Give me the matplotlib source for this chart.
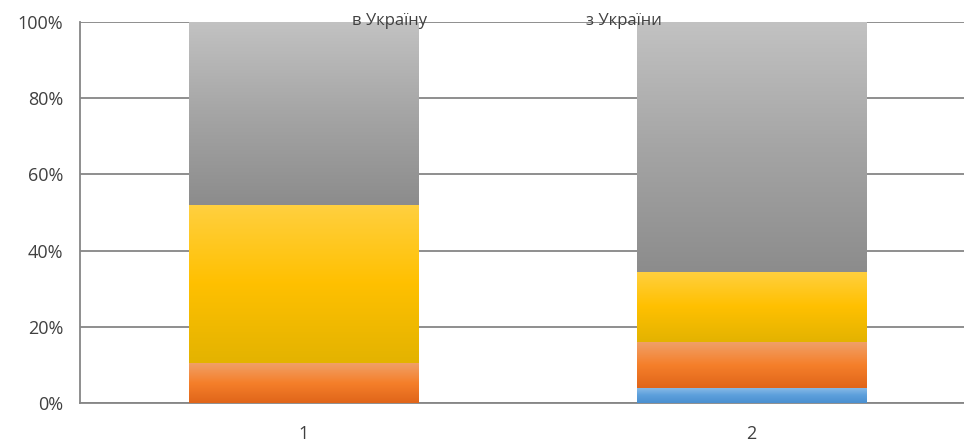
import numpy as np
import matplotlib.pyplot as plt
from matplotlib.colors import LinearSegmentedColormap

categories = ["1", "2"]
blue = [0.0, 4.0]
orange = [10.5, 12.0]
yellow = [41.5, 18.5]
gray = [48.0, 65.5]
legend_labels = ["в Україну", "з України"]

series = [blue, orange, yellow, gray]
grads = [
    ["#4a90d0", "#5da0dc", "#8dbde8"],
    ["#e0651a", "#f57f2a", "#f0a068"],
    ["#e3b300", "#ffc000", "#ffd040"],
    ["#8c8c8c", "#a5a5a5", "#c2c2c2"],
]

plt.rcParams['font.family'] = ['Open Sans', 'DejaVu Sans']

fig = plt.figure(figsize=(9.64, 4.44), dpi=100)
ax = fig.add_axes([0.083, 0.0923, 0.929, 0.858])

x = np.arange(len(categories))
bottom = np.zeros(len(categories))
grad = np.linspace(0, 1, 256).reshape(-1, 1)
for vals, cols in zip(series, grads):
    bars = ax.bar(x, vals, width=0.512, bottom=bottom, color=cols[1],
                  edgecolor="none", zorder=2)
    cmap = LinearSegmentedColormap.from_list("g", cols)
    for b in bars:
        if b.get_height() <= 0:
            continue
        x0, y0 = b.get_x(), b.get_y()
        im = ax.imshow(grad, cmap=cmap, aspect="auto", origin="lower",
                       extent=[x0, x0 + b.get_width(), y0, y0 + b.get_height()],
                       zorder=3)
        im.set_clip_path(b)
    bottom += np.array(vals)

ax.set_xlim(-0.5, 1.5)
ax.set_ylim(0, 100)
ax.set_yticks(np.arange(0, 101, 20))
ax.set_yticklabels([f"{v}%" for v in range(0, 101, 20)])
ax.set_xticks(x)
ax.set_xticklabels(categories)
ax.yaxis.grid(True, color="#868686", linewidth=1.3, zorder=1)
ax.set_axisbelow(True)
for s in ["top", "right"]:
    ax.spines[s].set_visible(False)
for s in ["left", "bottom"]:
    ax.spines[s].set_color("#868686")
    ax.spines[s].set_linewidth(1.3)
ax.tick_params(axis="y", length=0, pad=12, labelsize=13, labelcolor="#404040")
ax.tick_params(axis="x", length=0, pad=16, labelsize=13, labelcolor="#404040")

fig.text(390 / 964, 1 - 21 / 444, legend_labels[0], fontsize=12, color="#404040",
         ha="center", va="center", zorder=5)
fig.text(624 / 964, 1 - 21 / 444, legend_labels[1], fontsize=12, color="#404040",
         ha="center", va="center", zorder=5)

fig.savefig("out.png", dpi=100)
